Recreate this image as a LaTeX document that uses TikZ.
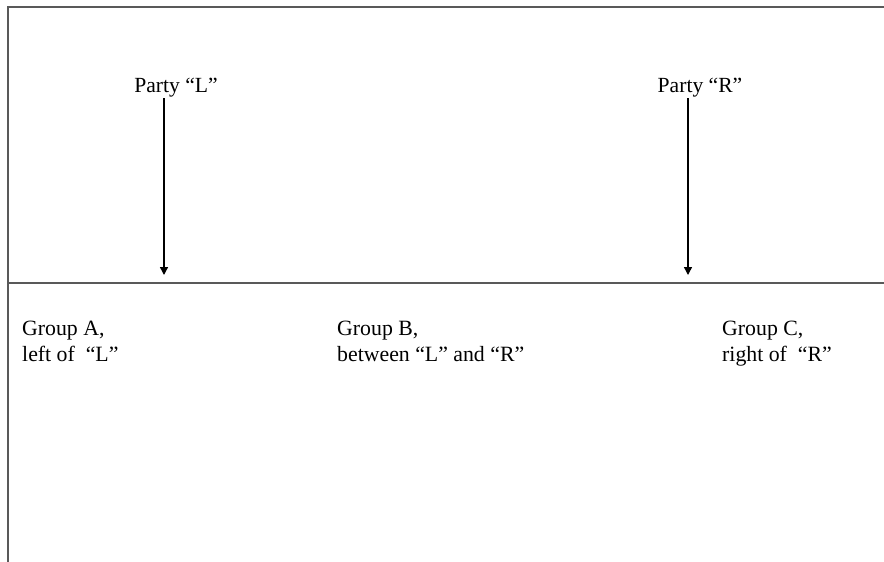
\documentclass[tikz,border=0pt]{standalone}
\usepackage{fontspec}
\setmainfont{Liberation Serif}
\usetikzlibrary{arrows.meta}
\begin{document}
\begin{tikzpicture}[x=1pt,y=-1pt,
  frame/.style={draw=black!65,line width=1.3pt},
  arr/.style={draw=black,line width=1.4pt,-{Triangle[length=8pt,width=8pt]}},
  lbl/.style={font=\fontsize{21.6}{26}\selectfont,inner sep=0pt,anchor=base},
  grp/.style={font=\fontsize{21.8}{26}\selectfont,inner sep=0pt,align=left,anchor=north west}]
\useasboundingbox (0,0) rectangle (884,562);
\coordinate (tl) at (8,7);
\coordinate (tr) at (884,7);
\coordinate (bl) at (8,562);
\coordinate (ml) at (8,283);
\coordinate (mr) at (884,283);
\draw[frame] (bl) -- (tl) -- (tr);
\draw[frame] (ml) -- (mr);
\node[lbl] (pl) at (176,92) {Party “L”};
\node[lbl] (pr) at (700,92) {Party “R”};
\coordinate (al) at (164,275);
\coordinate (ar) at (688,275);
\draw[arr] (164,98) -- (al);
\draw[arr] (688,98) -- (ar);
\node[grp] (ga) at (22,321) {Group A,\\left of\ \ “L”};
\node[grp] (gb) at (337,321) {Group B,\\between “L” and “R”};
\node[grp] (gc) at (722,321) {Group C,\\right of\ \ “R”};
\end{tikzpicture}
\end{document}
